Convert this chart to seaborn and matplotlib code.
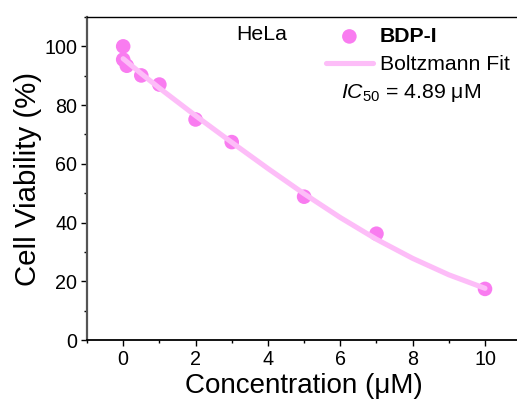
import matplotlib
matplotlib.use("Agg")
import matplotlib.pyplot as plt
import seaborn as sns
import numpy as np
from matplotlib.ticker import MultipleLocator

# ---- data ----
conc = [0, 0, 0.1, 0.5, 1, 2, 3, 5, 7, 10]
viability = [100, 95.5, 93.4, 90.1, 87.0, 75.1, 67.4, 48.8, 36.2, 17.4]
fit_x = [0, 0.5, 1, 2, 3, 4, 5, 6, 7, 8, 9, 10]
fit_y = [95.8, 90.7, 85.8, 76.4, 67.3, 58.4, 49.8, 41.7, 34.3, 27.8, 22.2, 17.6]
x_ticks = [0, 2, 4, 6, 8, 10]
y_ticks = [0, 20, 40, 60, 80, 100]

sns.set_style("ticks")
plt.rcParams['font.family'] = ['Liberation Sans', 'DejaVu Sans']
plt.rcParams['mathtext.fontset'] = 'custom'
plt.rcParams['mathtext.rm'] = 'Liberation Sans'
plt.rcParams['mathtext.it'] = 'Liberation Sans:italic'
for k in ['text.color', 'axes.labelcolor', 'xtick.color', 'ytick.color']:
    plt.rcParams[k] = 'black'

W, H = 517, 399
fig = plt.figure(figsize=(W / 100, H / 100), dpi=100)
ax = fig.add_axes([87 / W, (H - 340) / H, (521.2 - 87) / W, (340 - 17) / H])

marker_color = '#F97CF0'
line_color = '#FDBDF8'

sns.scatterplot(x=conc, y=viability, ax=ax, s=110, color=marker_color,
                edgecolor='none', label='BDP-I', zorder=2)
sns.lineplot(x=fit_x, y=fit_y, ax=ax, color=line_color, lw=3.7,
             label='Boltzmann Fit', zorder=3)

ax.set_xlim(-1, 11)
ax.set_ylim(0, 110)
ax.set_xticks(x_ticks)
ax.set_yticks(y_ticks)
ax.xaxis.set_minor_locator(MultipleLocator(1))
ax.yaxis.set_minor_locator(MultipleLocator(10))
ax.tick_params(axis='both', which='major', direction='out', length=4,
               width=1.0, labelsize=14.2, color='black', labelcolor='black',
               pad=3)
ax.tick_params(axis='both', which='minor', direction='out', length=2.5,
               width=1.0, color='black')

for side in ['top', 'right']:
    ax.spines[side].set_linewidth(1.0)
    ax.spines[side].set_color('black')
ax.spines['bottom'].set_linewidth(1.3)
ax.spines['bottom'].set_color('black')
ax.spines['left'].set_linewidth(1.6)
ax.spines['left'].set_color('#555555')

ax.set_xlabel('Concentration (μM)', fontsize=20, labelpad=3, color='black')
ax.set_ylabel('Cell Viability (%)', fontsize=21.2, labelpad=1.5, color='black')

ax.text(3.12, 104, 'HeLa', fontsize=15.3, va='center', ha='left',
        color='black')
ax.text(6.02, 84.2, r'$\mathit{IC_{50}}$ = 4.89 μM', fontsize=15.3,
        va='center', ha='left', color='black')

leg = ax.legend(loc='upper left', bbox_to_anchor=(326 / W, 1 - 27 / H),
                bbox_transform=fig.transFigure, frameon=False, fontsize=15.3,
                borderpad=0, borderaxespad=0, handlelength=2.2,
                handletextpad=0.33, labelspacing=0.43)
for t in leg.get_texts():
    t.set_color('black')
leg.get_texts()[0].set_fontweight('bold')

fig.savefig('out.png', dpi=100)
